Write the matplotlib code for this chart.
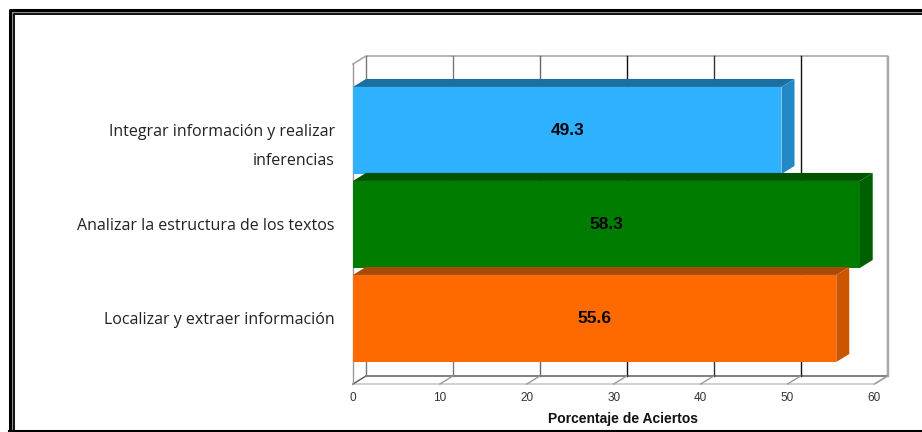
import matplotlib
matplotlib.use("Agg")
import matplotlib.pyplot as plt
from matplotlib.lines import Line2D
from matplotlib.patches import Polygon

categories = ["Localizar y extraer información",
              "Analizar la estructura de los textos",
              "Integrar información y realizar\ninferencias"]
values = [55.6, 58.3, 49.3]
front_colors = ["#ff6a00", "#007c00", "#2eb2ff"]
top_colors = ["#a84a08", "#005400", "#1a6fa3"]
side_colors = ["#cc5600", "#005f00", "#2289c6"]
x_ticks = [0, 10, 20, 30, 40, 50, 60]
grid_colors = ["#8a8a8a", "#777777", "#666666", "#111111", "#333333", "#111111", "#a8a8a8"]

W, H = 922, 432
# front plane of the 3d box, in pixels
LEFT, RIGHT, TOP, BOTTOM = 353, 874.5, 64, 384
DEPTH_PX_X, DEPTH_PX_Y = 13, 8

fig = plt.figure(figsize=(W / 100, H / 100), dpi=100, facecolor="white")
ax = fig.add_axes([LEFT / W, 1 - BOTTOM / H, (RIGHT - LEFT) / W, (BOTTOM - TOP) / H])
ax.set_xlim(0, 60)
ax.set_ylim(-0.697, 2.707)
ax.patch.set_alpha(0)
for s in ax.spines.values():
    s.set_visible(False)

dx = DEPTH_PX_X * 60 / (RIGHT - LEFT)
dy = DEPTH_PX_Y * 3.404 / (BOTTOM - TOP)
y0, y1 = ax.get_ylim()

# box walls
ax.plot([0, dx, 60 + dx, 60 + dx], [y1, y1 + dy, y1 + dy, y0 + dy],
        color="#a8a8a8", lw=1.2, clip_on=False, zorder=1)
ax.plot([60 + dx, 60, 0], [y0 + dy, y0, y0], color="#c8c8c8", lw=1.2, clip_on=False, zorder=1)
ax.plot([dx, dx], [y0 + dy, y1 + dy], color="#777777", lw=1, clip_on=False, zorder=1)
ax.plot([0, dx], [y0, y0 + dy], color="#555555", lw=1, clip_on=False, zorder=1)
ax.plot([dx, 60 + dx], [y0 + dy, y0 + dy], color="#808080", lw=1.4, clip_on=False, zorder=1)
ax.plot([0, 0], [y0, y1], color="#999999", lw=1, clip_on=False, zorder=1)

for t, c in zip(x_ticks[1:], grid_colors[1:]):
    ax.plot([t + dx, t + dx], [y0 + dy, y1 + dy], color=c, lw=1, clip_on=False, zorder=1)
    ax.plot([t, t + dx], [y0, y0 + dy], color="#9a9a9a", lw=1, clip_on=False, zorder=1)

# bars, back to front so each top face covers the one above
bar_h = 0.926
order = [2, 1, 0]
for n, i in enumerate(order):
    v = values[i]
    low, high = i - bar_h / 2, i + bar_h / 2
    z = 2 + n
    ax.add_patch(Polygon([(0, high), (dx, high + dy), (v + dx, high + dy), (v, high)],
                         closed=True, fc=top_colors[i], ec="none", clip_on=False, zorder=z))
    ax.add_patch(Polygon([(v, low), (v + dx, low + dy), (v + dx, high + dy), (v, high)],
                         closed=True, fc=side_colors[i], ec="none", clip_on=False, zorder=z))
    ax.barh(i, v, height=bar_h, color=front_colors[i], zorder=z + 0.5)
    ax.text(v / 2, i, f"{v:.1f}", ha="center", va="center", fontsize=12.5, fontweight="bold",
            family="Liberation Sans", color="#050505", zorder=10)

ax.set_yticks([])
ax.set_xticks(x_ticks)
ax.tick_params(axis="x", length=0, pad=6, labelsize=8.5, labelcolor="#333333")
for lab in ax.get_xticklabels():
    lab.set_family("Liberation Sans")

ax.set_xlabel("Porcentaje de Aciertos", fontsize=10, fontweight="bold",
              family="Liberation Sans", color="#111111", labelpad=5.5)
ax.xaxis.label.set_position((0.517, 0))

# category labels, first line level with the bar centre
trans = ax.get_yaxis_transform()
for i, cat in enumerate(categories):
    for k, line in enumerate(cat.split("\n")):
        ax.annotate(line, xy=(0, i), xycoords=trans, xytext=(-13, -1.2 - 21 * k), textcoords="offset points",
                    ha="right", va="center", fontsize=11.5, family="Open Sans", color="#222222")

# double frame, cut off by the right and bottom of the image
frame = [((12, 431.5), (12, 12), (922, 12), 4.2, "#909090"),
         ((10.2, 431.5), (10.2, 10.2), (922, 10.2), 2.2, "#000000"),
         ((13.7, 431.5), (13.7, 13.7), (922, 13.7), 1.4, "#111111")]
for a, b, c, lw, col in frame:
    xs = [a[0] / W, b[0] / W, c[0] / W]
    ys = [1 - a[1] / H, 1 - b[1] / H, 1 - c[1] / H]
    fig.add_artist(Line2D(xs, ys, color=col, lw=lw))
fig.add_artist(Line2D([9 / W, 1], [0.7 / H, 0.7 / H], color="#000000", lw=1.5))

fig.savefig("out.png", dpi=100)
